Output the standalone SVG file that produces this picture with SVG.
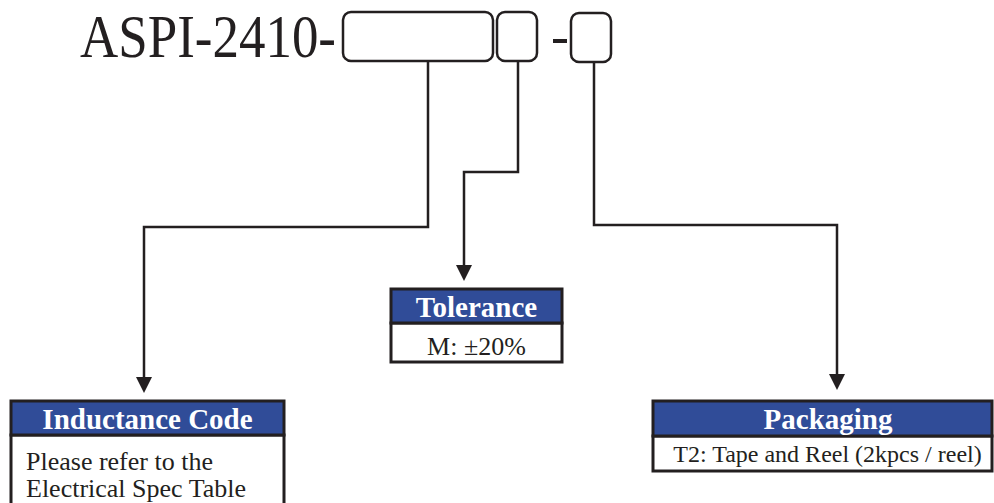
<svg xmlns="http://www.w3.org/2000/svg" width="994" height="503" viewBox="0 0 994 503">
<style>
.k{fill:none;stroke:#231f20;stroke-width:2.5}
.slot{fill:#fff;stroke:#231f20;stroke-width:2.5}
.hd{fill:#304c98;stroke:#231f20;stroke-width:3}
.bd{fill:#fff;stroke:#231f20;stroke-width:3}
.ht{font-family:"Liberation Serif","Times New Roman",serif;font-weight:bold;font-size:29px;fill:#fff;text-anchor:middle}
.bt{font-family:"Liberation Serif","Times New Roman",serif;font-size:26px;fill:#231f20}
.tt{font-family:"Liberation Serif","Times New Roman",serif;font-size:61px;fill:#231f20}
</style>
<defs>
<marker id="ah" markerWidth="16" markerHeight="16" viewBox="0 0 16 16" refX="8" refY="15" orient="auto-start-reverse" markerUnits="userSpaceOnUse">
<path d="M0,0 L16,0 L8,16 Z" fill="#231f20" transform="rotate(-90 8 8)"/>
</marker>
</defs>
<g id="title">
<text class="tt" x="80" y="57" textLength="256" lengthAdjust="spacingAndGlyphs">ASPI-2410-</text>
<rect class="slot" x="343" y="12" width="150" height="49" rx="8"/>
<rect class="slot" x="497" y="12" width="40" height="49" rx="8"/>
<rect x="553" y="39" width="14" height="4" fill="#231f20"/>
<rect class="slot" x="571" y="13" width="40" height="49" rx="8"/>
</g>
<g id="connectors">
<polyline class="k" points="428,61 428,227 144,227 144,378"/>
<path d="M136,377 L152,377 L144,393 Z" fill="#231f20"/>
<polyline class="k" points="518,61 518,172 464,172 464,266"/>
<path d="M456,265 L472,265 L464,281 Z" fill="#231f20"/>
<polyline class="k" points="594,62 594,225 837,225 837,375"/>
<path d="M829,374 L845,374 L837,390 Z" fill="#231f20"/>
</g>
<g id="inductance">
<rect class="bd" x="11" y="435" width="273" height="80"/>
<rect class="hd" x="11" y="401" width="273" height="34"/>
<text class="ht" x="147.5" y="429">Inductance Code</text>
<text class="bt" x="26" y="470">Please refer to the</text>
<text class="bt" x="26" y="497">Electrical Spec Table</text>
</g>
<g id="tolerance">
<rect class="bd" x="391" y="323" width="171" height="39"/>
<rect class="hd" x="391" y="289" width="171" height="34"/>
<text class="ht" x="476.5" y="317">Tolerance</text>
<text class="bt" x="476.5" y="355" text-anchor="middle">M: ±20%</text>
</g>
<g id="packaging">
<rect class="bd" x="653" y="436" width="339" height="35"/>
<rect class="hd" x="653" y="401" width="339" height="35"/>
<text class="ht" x="828" y="429">Packaging</text>
<text class="bt" x="827.5" y="462" text-anchor="middle" style="font-size:24px">T2: Tape and Reel (2kpcs / reel)</text>
</g>
</svg>
